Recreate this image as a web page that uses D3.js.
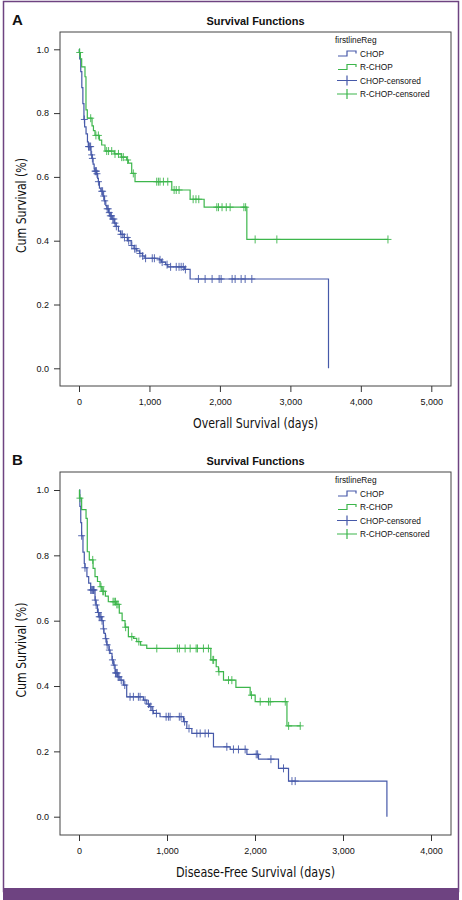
<!DOCTYPE html>
<html>
<head>
<meta charset="utf-8">
<script src="https://cdn.jsdelivr.net/npm/d3@7"></script>
<style>
  body { margin: 0; background: #fff; }
  svg text { font-family: "Liberation Sans", Arial, sans-serif; fill: #111; }
  .narrow { font-family: "Liberation Sans Narrow", "DejaVu Sans Condensed", sans-serif; }
</style>
</head>
<body>
<svg id="chart" width="462" height="900"></svg>
<script>
// ---- data ----
var groups = ["CHOP", "R-CHOP"]
var legendTitle = "firstlineReg"
var legendLabels = ["CHOP", "R-CHOP", "CHOP-censored", "R-CHOP-censored"]

// panel A: overall survival, step events [days, cum survival]
var osChopEvents = [[0,1.0],[5,0.99],[10,0.97],[25,0.93],[40,0.88],[55,0.83],[70,0.78],[80,0.757],[100,0.735],[120,0.71],
  [132,0.695],[170,0.669],[186,0.658],[200,0.64],[215,0.625],[225,0.618],[250,0.61],[265,0.595],[275,0.585],[290,0.565],
  [310,0.555],[340,0.54],[360,0.525],[380,0.51],[395,0.5],[420,0.488],[440,0.478],[470,0.468],[500,0.455],[525,0.445],
  [560,0.43],[590,0.42],[640,0.41],[690,0.4],[740,0.385],[780,0.375],[820,0.368],[860,0.36],[900,0.352],[935,0.345],
  [1140,0.34],[1170,0.333],[1230,0.325],[1260,0.318],[1500,0.31],[1577,0.28],[3541,0]]
var osChopCensored = [76,135,145,155,165,180,190,228,238,246,255,276,322,335,350,365,400,415,430,445,460,480,495,510,530,
  595,615,645,685,705,750,790,810,865,905,945,1040,1070,1150,1180,1250,1300,1380,1420,1450,1480,1510,
  1695,1790,1889,1989,2017,2173,2216,2301,2358,2453]
var osRchopEvents = [[0,1.0],[5,0.99],[20,0.97],[38,0.945],[85,0.914],[99,0.81],[118,0.784],[185,0.76],[205,0.745],[227,0.73],
  [290,0.715],[322,0.7],[369,0.681],[500,0.672],[600,0.662],[677,0.653],[700,0.643],[748,0.611],[795,0.585],
  [1317,0.559],[1577,0.53],[1776,0.505],[2382,0.404]]
var osRchopCensored = [10,166,240,275,393,420,464,511,560,606,629,690,771,1103,1127,1150,1198,1260,1350,1380,1420,
  1620,1660,1700,1956,1980,2030,2090,2145,2340,2365,2500,2808,4385]

// panel B: disease-free survival
var dfsChopEvents = [[0,1.0],[10,0.95],[20,0.9],[30,0.86],[45,0.81],[60,0.775],[68,0.762],[90,0.735],[110,0.715],[133,0.694],
  [182,0.663],[193,0.648],[210,0.625],[225,0.612],[258,0.6],[276,0.575],[284,0.561],[300,0.545],[315,0.526],[340,0.51],
  [353,0.5],[375,0.48],[390,0.464],[410,0.44],[440,0.428],[466,0.418],[504,0.403],[542,0.367],[732,0.357],[770,0.345],
  [800,0.337],[830,0.325],[845,0.316],[921,0.306],[1187,0.291],[1225,0.27],[1282,0.255],[1528,0.214],[1718,0.206],
  [1908,0.191],[2040,0.176],[2267,0.148],[2381,0.109],[3499,0]]
var dfsChopCensored = [30,68,133,145,155,165,171,185,195,220,230,240,250,262,280,305,320,345,380,400,415,425,435,445,455,
  480,520,580,618,675,694,750,790,815,840,880,990,1016,1035,1140,1160,1200,1250,1339,1377,1433,1471,
  1680,1755,1812,1888,2014,2030,2181,2324,2420,2457]
var dfsRchopEvents = [[0,1.0],[5,0.975],[30,0.94],[80,0.913],[94,0.811],[117,0.786],[160,0.76],[182,0.735],[210,0.72],[239,0.704],
  [260,0.69],[300,0.675],[333,0.658],[420,0.65],[458,0.623],[490,0.6],[523,0.58],[561,0.551],[620,0.546],[656,0.536],
  [700,0.525],[770,0.515],[1498,0.48],[1559,0.459],[1585,0.444],[1642,0.418],[1783,0.396],[1945,0.372],[2002,0.352],[2363,0.278]]
var dfsRchopCensored = [11,156,250,270,280,387,400,415,430,444,530,600,680,884,1118,1141,1206,1263,1331,1346,1414,1471,
  1521,1530,1590,1699,1737,1960,2059,2154,2173,2344,2382,2514]

var yTicks = [0, 0.2, 0.4, 0.6, 0.8, 1.0]
var osTicks = [0, 1000, 2000, 3000, 4000, 5000]
var dfsTicks = [0, 1000, 2000, 3000, 4000]

var colors = { "CHOP": "#4659a9", "R-CHOP": "#3db64c" }

var svg = d3.select("#chart")

// journal frame
svg.append("rect").attr("x", 3.5).attr("y", 1.5).attr("width", 455).attr("height", 890)
  .attr("fill", "none").attr("stroke", "#6e4381").attr("stroke-width", 1.5)
svg.append("rect").attr("x", 3).attr("y", 888).attr("width", 456).attr("height", 12).attr("fill", "#6e4381")

// survival at time t from a step list
function stepAt(events, t) {
  var s = events[0][1]
  events.forEach(function (e) { if (e[0] <= t) s = e[1] })
  return s
}

var Panel = function (opt) {
  var g = svg.append("g")
  var x = d3.scaleLinear().domain([0, opt.ticks[opt.ticks.length - 1]]).range([opt.x0, opt.x1])
  var y = d3.scaleLinear().domain([0, 1]).range([opt.y0, opt.y1])

  g.append("text").attr("x", 12).attr("y", opt.top - 7).attr("font-size", 15).attr("font-weight", "bold").text(opt.letter)
  g.append("text").attr("x", 255.5).attr("y", opt.top - 7).attr("font-size", 10.5).attr("font-weight", "bold")
    .attr("text-anchor", "middle").attr("textLength", 98).attr("lengthAdjust", "spacingAndGlyphs")
    .text("Survival Functions")

  g.append("rect").attr("x", opt.left).attr("y", opt.top).attr("width", opt.right - opt.left)
    .attr("height", opt.bottom - opt.top).attr("fill", "none").attr("stroke", "#444").attr("stroke-width", 1)

  var xa = g.append("g").attr("transform", "translate(0," + opt.bottom + ")")
    .call(d3.axisBottom(x).tickValues(opt.ticks).tickSize(6).tickSizeOuter(0).tickPadding(7).tickFormat(d3.format(",")))
  var ya = g.append("g").attr("transform", "translate(" + opt.left + ",0)")
    .call(d3.axisLeft(y).tickValues(yTicks).tickSize(6).tickSizeOuter(0).tickPadding(5).tickFormat(d3.format(".1f")))
  ;[xa, ya].forEach(function (a) {
    a.select(".domain").remove()
    a.selectAll("line").attr("stroke", "#333")
    a.selectAll("text").attr("font-size", 9).attr("font-family", "Liberation Sans, Arial, sans-serif").attr("fill", "#222")
  })

  g.append("text").attr("class", "narrow").attr("x", 255.5).attr("y", opt.bottom + 42)
    .attr("font-size", 13.5).attr("text-anchor", "middle")
    .attr("textLength", opt.xTitleLen).attr("lengthAdjust", "spacingAndGlyphs").text(opt.xTitle)
  g.append("text").attr("class", "narrow")
    .attr("transform", "translate(26," + ((opt.top + opt.bottom) / 2 - 3.5) + ") rotate(-90)")
    .attr("font-size", 13.5).attr("text-anchor", "middle")
    .attr("textLength", 95).attr("lengthAdjust", "spacingAndGlyphs").text("Cum Survival (%)")

  var line = d3.line().x(function (d) { return x(d[0]) }).y(function (d) { return y(d[1]) }).curve(d3.curveStepAfter)

  opt.series.forEach(function (s) {
    var pts = s.events.slice()
    var last = pts[pts.length - 1]
    var maxC = d3.max(s.censored)
    if (maxC > last[0]) pts.push([maxC, last[1]])
    g.append("path").datum(pts).attr("d", line).attr("fill", "none")
      .attr("stroke", colors[s.name]).attr("stroke-width", 1.2)
    g.append("g").selectAll("path").data(s.censored).join("path")
      .attr("d", function (t) {
        var cx = x(t), cy = y(stepAt(s.events, t))
        return "M" + (cx - 3.5) + "," + cy + "H" + (cx + 3.5) + "M" + cx + "," + (cy - 4) + "V" + (cy + 4)
      })
      .attr("fill", "none").attr("stroke", colors[s.name]).attr("stroke-width", 1).attr("opacity", 0.9)
  })

  // legend
  var lg = g.append("g").attr("transform", "translate(335," + (opt.top + 11) + ")")
  lg.append("text").attr("x", 0).attr("y", 0).attr("font-size", 8.3).text(legendTitle)
  legendLabels.forEach(function (lab, i) {
    var ly = 13.5 * (i + 1) - 3
    var c = colors[groups[i % 2]]
    if (i < 2) {
      lg.append("path").attr("d", "M3," + (ly + 2.5) + "H12V" + (ly - 2.5) + "H21V" + ly)
        .attr("fill", "none").attr("stroke", c).attr("stroke-width", 1.2)
    } else {
      lg.append("path").attr("d", "M2," + ly + "H22M12," + (ly - 5) + "V" + (ly + 5))
        .attr("fill", "none").attr("stroke", c).attr("stroke-width", 1.2)
    }
    lg.append("text").attr("x", 25).attr("y", ly + 3).attr("font-size", 8.3).text(lab)
  })
}

new Panel({
  letter: "A", top: 32, bottom: 386, left: 60, right: 451,
  x0: 79, x1: 431.3, y0: 368.3, y1: 49.3,
  ticks: osTicks, xTitle: "Overall Survival (days)", xTitleLen: 125,
  series: [
    { name: "CHOP", events: osChopEvents, censored: osChopCensored },
    { name: "R-CHOP", events: osRchopEvents, censored: osRchopCensored }
  ]
})

new Panel({
  letter: "B", top: 472, bottom: 835, left: 60, right: 451,
  x0: 79, x1: 431, y0: 816.7, y1: 490,
  ticks: dfsTicks, xTitle: "Disease-Free Survival (days)", xTitleLen: 159,
  series: [
    { name: "CHOP", events: dfsChopEvents, censored: dfsChopCensored },
    { name: "R-CHOP", events: dfsRchopEvents, censored: dfsRchopCensored }
  ]
})
</script>
</body>
</html>
